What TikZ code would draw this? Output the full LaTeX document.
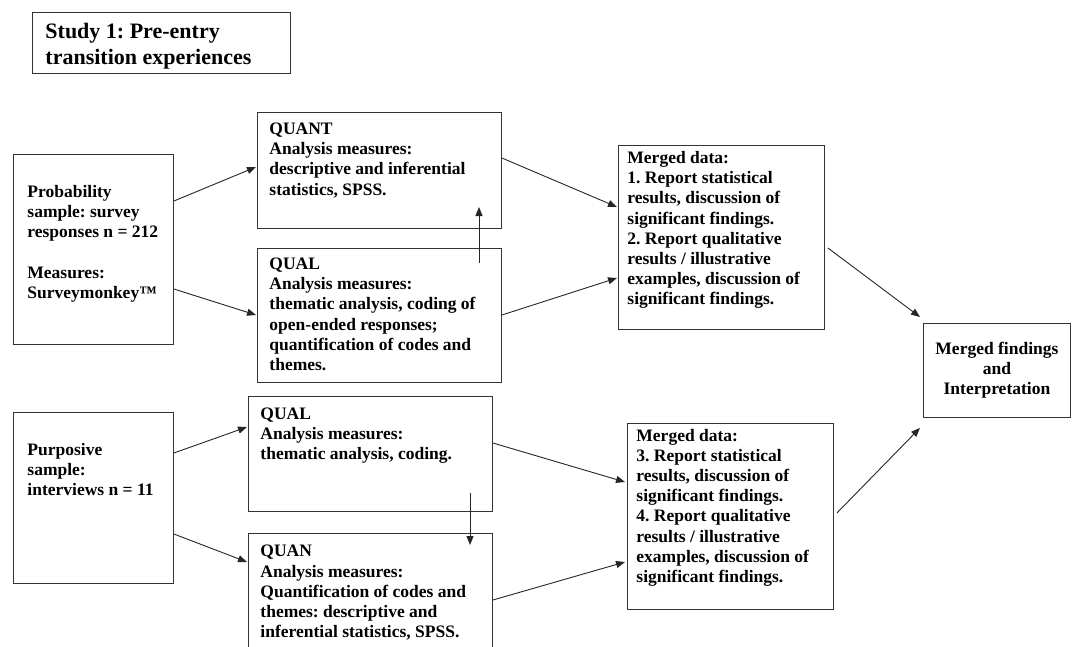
\documentclass[tikz,border=0pt]{standalone}
\usepackage{fontspec}
\setmainfont{Liberation Serif}
\usetikzlibrary{arrows.meta,calc}
\frenchspacing

% box with top-left aligned text: name, x, y, width, height, left pad, first baseline, text
\newcommand\mkbox[8]{%
  \node[box, anchor=north west] (#1) at (#2,#3)
    {\parbox[t][#5pt][t]{#4pt}{\raggedright\leftskip=#6pt\relax\rule{0pt}{#7pt}#8}};}

\tikzset{
  box/.style={draw=black!80, line width=0.9pt, inner sep=0pt, font=\bfseries\fontsize{17.5}{20.2}\selectfont},
  conn/.style={draw=black!85, line width=0.9pt, -{Triangle[length=9pt,width=7pt]}},
}

\begin{document}
\begin{tikzpicture}[x=1pt, y=-1pt]
\fill[white] (0,0) rectangle (1072,646);
\clip (0,0) rectangle (1072,646);

% title
\node[box, anchor=north west, font=\bfseries\fontsize{22}{26}\selectfont] (title) at (32,12)
  {\parbox[t][61pt][t]{258pt}{\raggedright\leftskip=13pt\relax\rule{0pt}{25.6pt}Study 1: Pre-entry\\transition experiences}};

% sources
\mkbox{prob}{13}{154}{160}{190}{14}{43}{Probability\\sample: survey\\responses n = 212\\[\baselineskip]Measures:\\Surveymonkey™}
\mkbox{purp}{13}{412}{160}{171}{14}{43}{Purposive\\sample:\\interviews n = 11}

% upper strand
\mkbox{quant}{257}{112}{244}{116}{12}{22}{QUANT\\Analysis measures:\\descriptive and inferential\\statistics, SPSS.}
\mkbox{qual}{257}{248}{244}{134}{12}{21}{QUAL\\Analysis measures:\\thematic analysis, coding of\\open-ended responses;\\quantification of codes and\\themes.}
\mkbox{m1}{618}{145}{206}{184}{9}{18}{Merged data:\\1. Report statistical\\results, discussion of\\significant findings.\\2. Report qualitative\\results / illustrative\\examples, discussion of\\significant findings.}

% lower strand
\mkbox{qual2}{248}{396}{244}{115}{12}{22.6}{QUAL\\Analysis measures:\\thematic analysis, coding.}
\mkbox{quan}{248}{533}{244}{130}{12}{23.4}{QUAN\\Analysis measures:\\Quantification of codes and\\themes: descriptive and\\inferential statistics, SPSS.}
\mkbox{m2}{627}{423}{206}{186}{9}{17.6}{Merged data:\\3. Report statistical\\results, discussion of\\significant findings.\\4. Report qualitative\\results / illustrative\\examples, discussion of\\significant findings.}

% final
\node[box, anchor=north west] (final) at (923,323)
  {\parbox[c][94pt][c]{147pt}{\centering Merged findings\\and\\Interpretation}};

% connectors
\draw[conn] ([yshift=-47pt]prob.north east) -- ([xshift=-1pt,yshift=-55pt]quant.north west);
\draw[conn] ([yshift=-135pt]prob.north east) -- ([xshift=-1pt,yshift=-67pt]qual.north west);
\draw[conn] ([xshift=222pt,yshift=-15pt]qual.north west) -- ([xshift=222pt,yshift=-95pt]quant.north west);
\draw[conn] ([yshift=-46pt]quant.north east) -- ([xshift=-1pt,yshift=-62pt]m1.north west);
\draw[conn] ([yshift=-67pt]qual.north east) -- ([xshift=-1pt,yshift=-133pt]m1.north west);
\draw[conn] ([xshift=3pt,yshift=-103pt]m1.north east) -- ([xshift=-3pt,yshift=6pt]final.north west);

\draw[conn] ([yshift=-41pt]purp.north east) -- ([xshift=-1pt,yshift=-31pt]qual2.north west);
\draw[conn] ([yshift=-122pt]purp.north east) -- ([xshift=-1pt,yshift=-29pt]quan.north west);
\draw[conn] ([xshift=222pt,yshift=-97pt]qual2.north west) -- ([xshift=222pt,yshift=-12pt]quan.north west);
\draw[conn] ([yshift=-47pt]qual2.north east) -- ([xshift=-2pt,yshift=-59pt]m2.north west);
\draw[conn] ([yshift=-67pt]quan.north east) -- ([xshift=-2pt,yshift=-139pt]m2.north west);
\draw[conn] ([xshift=3pt,yshift=-90pt]m2.north east) -- ([xshift=-3pt,yshift=-10pt]final.south west);
\end{tikzpicture}
\end{document}
